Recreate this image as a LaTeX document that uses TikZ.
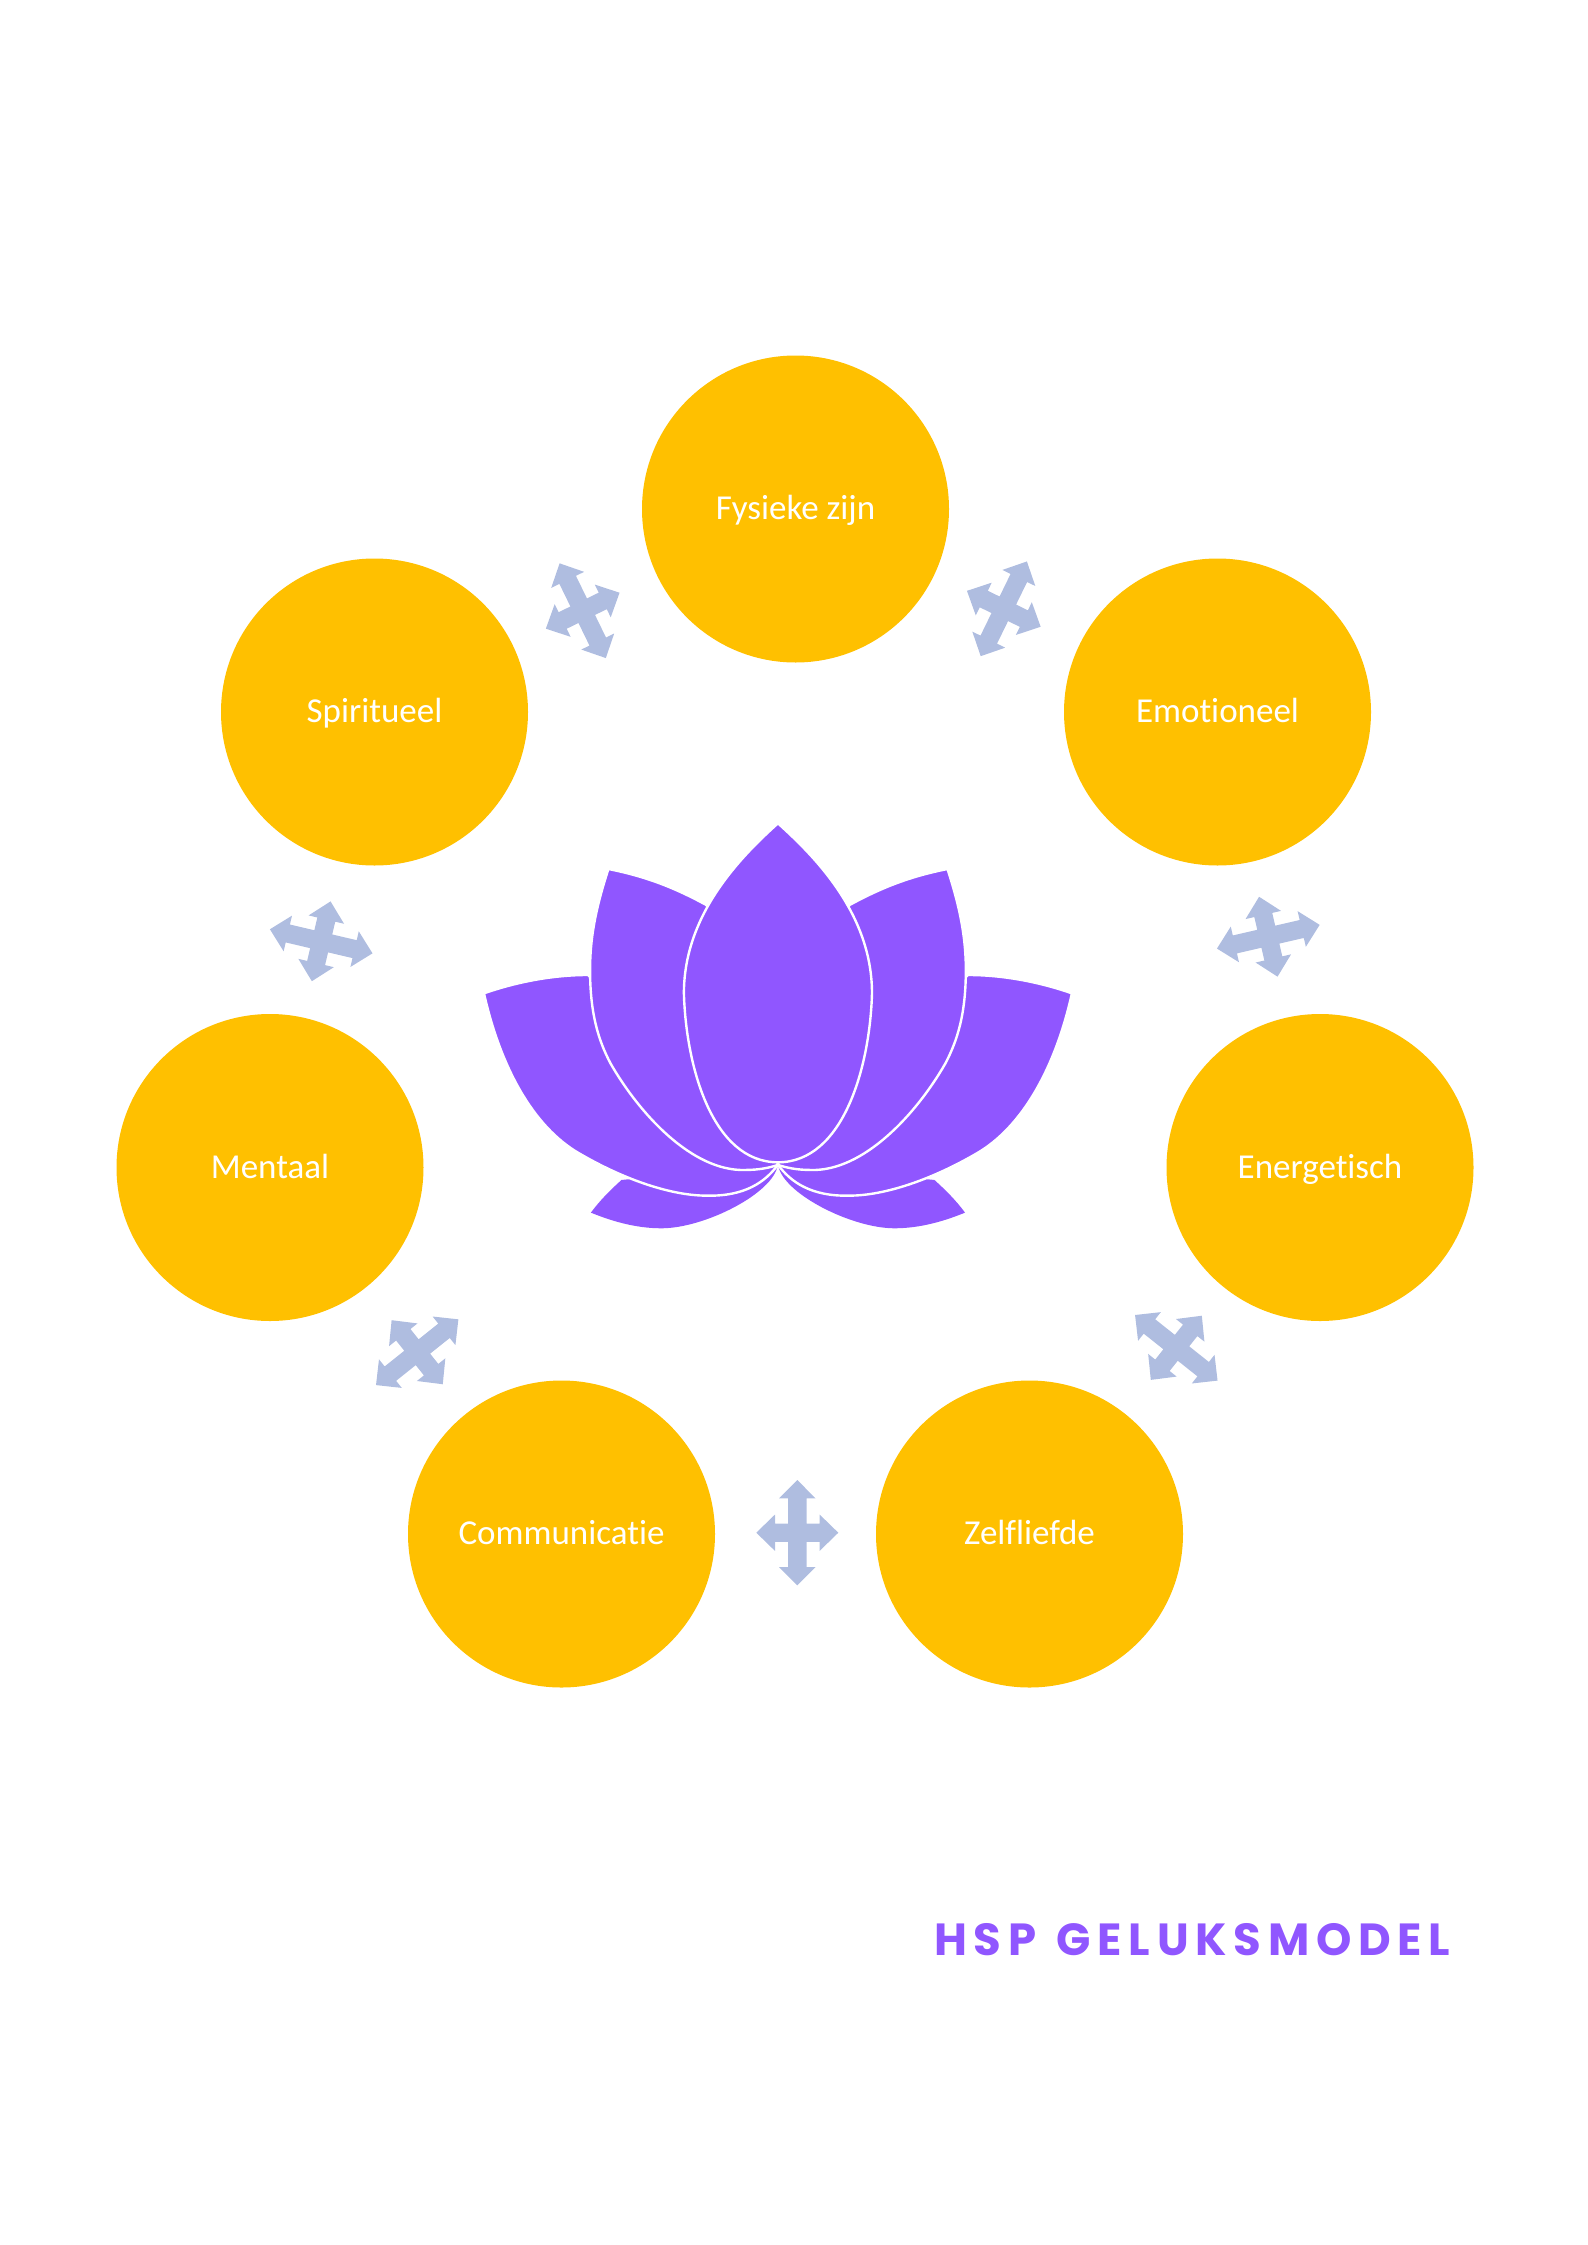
\documentclass[tikz,border=0pt]{standalone}
\usepackage{fontspec}
\setmainfont[Ligatures=NoCommon]{Carlito}
\newfontfamily\titlefont[LetterSpace=15]{Poppins}
\definecolor{lotus}{HTML}{9056FF}
\definecolor{gold}{HTML}{FFC000}
\definecolor{pijl}{HTML}{AFBDE0}
\begin{document}
\begin{tikzpicture}[
        x=1pt, y=-1pt,
        circlenode/.style={draw=none, fill=gold, circle, minimum size=307pt, inner sep=0pt, text=white, text height=26pt, text depth=5pt, font=\fontsize{35}{40}\selectfont},
        petal/.style={fill=lotus, draw=white, line width=2.4pt, line join=round},
        pics/quadarrow/.style={code={
            \fill[pijl] (0,-52.7) -- (18.3,-34.3) -- (9.2,-34.3) -- (9.2,-9.2) -- (22.3,-9.2) -- (22.3,-18.2)
                -- (41,0) -- (22.3,18.2) -- (22.3,9.2) -- (9.2,9.2) -- (9.2,34.3) -- (18.3,34.3)
                -- (0,52.7) -- (-18.3,34.3) -- (-9.2,34.3) -- (-9.2,9.2) -- (-22.3,9.2) -- (-22.3,18.2)
                -- (-41,0) -- (-22.3,-18.2) -- (-22.3,-9.2) -- (-9.2,-9.2) -- (-9.2,-34.3) -- (-18.3,-34.3) -- cycle;
        }},
        halflotus/.pic={
            % onderste blad
            \fill[lotus] (322,1238) .. controls (345,1200) and (370,1170) .. (397,1140) -- (780,1095)
                .. controls (770,1180) and (600,1285) .. (495,1285) .. controls (430,1285) and (370,1262) .. (322,1238) -- cycle;
            % buitenste blad
            \path[petal] (60,580) .. controls (100,800) and (180,980) .. (293,1060)
                .. controls (405,1140) and (520,1187) .. (605,1187) .. controls (700,1190) and (750,1145) .. (780,1095)
                -- (315,525) .. controls (220,525) and (130,550) .. (60,580) -- cycle;
            % middelste blad
            \path[petal] (365,207) .. controls (335,320) and (320,410) .. (320,510) .. controls (320,640) and (340,720) .. (370,790)
                .. controls (440,940) and (570,1115) .. (700,1110) .. controls (735,1110) and (760,1103) .. (780,1095)
                -- (700,500) -- (605,315) .. controls (530,265) and (460,230) .. (365,207) -- cycle;
        },
    ]
    \useasboundingbox (0,0) rectangle (1587,2245);

    \node[circlenode](fysiek) at (795.5,509){Fysieke zijn};
    \node[circlenode](emotioneel) at (1217.5,712){Emotioneel};
    \node[circlenode](energetisch) at (1320,1167.5){Energetisch};
    \node[circlenode](zelfliefde) at (1029.5,1534){Zelfliefde};
    \node[circlenode](communicatie) at (561.5,1534){Communicatie};
    \node[circlenode](mentaal) at (270,1167.5){Mentaal};
    \node[circlenode](spiritueel) at (374.5,712){Spiritueel};

    \pic[rotate=26] at (582.7,610.7){quadarrow};
    \pic[rotate=-26] at (1003.8,608.8){quadarrow};
    \pic[rotate=-77] at (1268.3,936.7){quadarrow};
    \pic[rotate=51.5] at (1176.3,1347.8){quadarrow};
    \pic at (797.3,1532.7){quadarrow};
    \pic[rotate=-51.4] at (417.2,1352.2){quadarrow};
    \pic[rotate=76.8] at (321.2,941.3){quadarrow};

    \begin{scope}[shift={(459.5,800)}, x=0.408pt, y=-0.3333pt]
        \pic[transform shape] at (0,0){halflotus};
        \begin{scope}[shift={(1561,0)}, xscale=-1]
            \pic[transform shape] at (0,0){halflotus};
        \end{scope}
        \path[petal] (780.5,70) .. controls (680,180) and (550,350) .. (550,580) .. controls (555,800) and (620,1087) .. (780.5,1087)
            .. controls (941,1087) and (1006,800) .. (1011,580) .. controls (1011,350) and (881,180) .. (780.5,70) -- cycle;
    \end{scope}

    \node[anchor=east, inner sep=0pt, text=lotus, font=\titlefont\bfseries\fontsize{45}{50}\selectfont](titel) at (1450.5,1940){HSP\hspace{4pt} GELUKSMODEL};
\end{tikzpicture}
\end{document}
